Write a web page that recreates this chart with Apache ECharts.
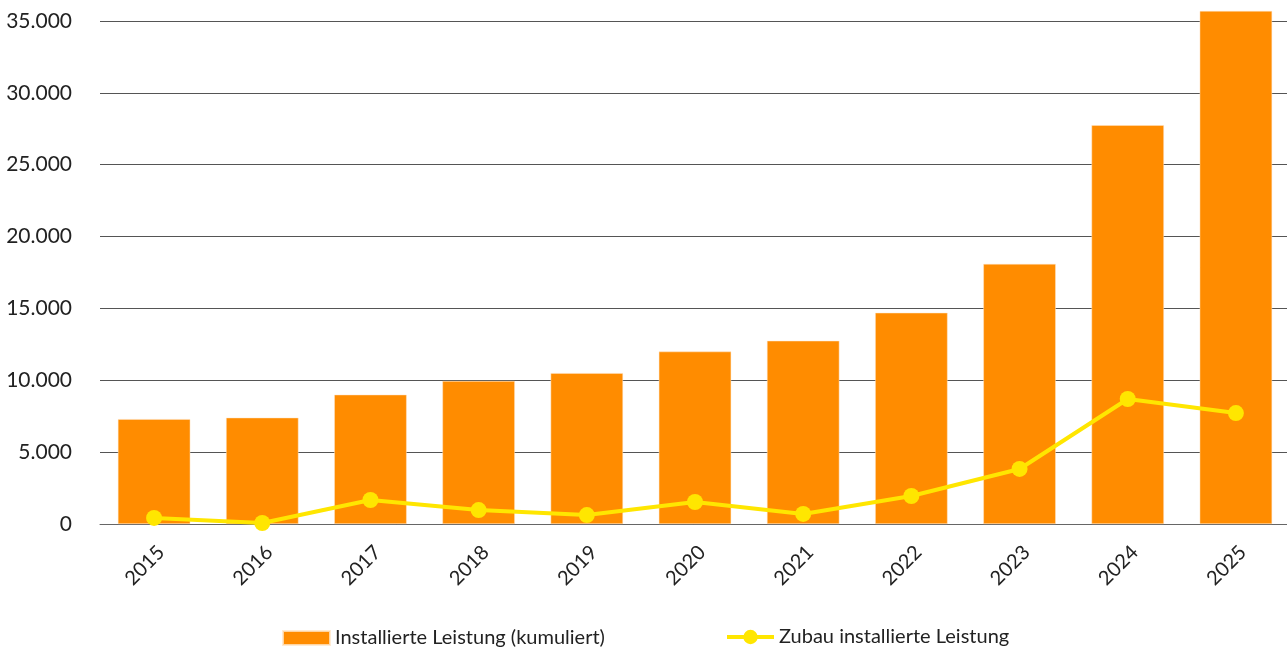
<!DOCTYPE html>
<html><head><meta charset="utf-8">
<script src="https://cdn.jsdelivr.net/npm/echarts@6/dist/echarts.min.js"></script>
<style>html,body{margin:0;padding:0;background:#fff}#c{width:1287px;height:650px}</style>
</head><body><div id="c"></div>
<script>
const categories = ['2015','2016','2017','2018','2019','2020','2021','2022','2023','2024','2025'];
const installiert = [7300, 7400, 9000, 9950, 10500, 12000, 12750, 14700, 18100, 27750, 35700];
const zubau = [420, 70, 1670, 970, 620, 1530, 700, 1950, 3830, 8700, 7720];
const yTicks = [0, 5000, 10000, 15000, 20000, 25000, 30000, 35000];
const seriesNames = ['Installierte Leistung (kumuliert)', 'Zubau installierte Leistung'];

const fmt = v => String(v).replace(/\B(?=(\d{3})+(?!\d))/g, '.');
const FONT = 'Lato';
const legendText = {fontFamily: FONT, fontSize: 20, color: '#222'};
const chart = echarts.init(document.getElementById('c'));
chart.setOption({
  animation: false,
  textStyle: {fontFamily: FONT},
  grid: {left: 100, width: 1190, top: 21, bottom: 126, containLabel: false, outerBoundsMode: 'none'},
  legend: [
    {
      left: 277, top: 623, itemWidth: 47, itemHeight: 14,
      textStyle: legendText,
      data: [{name: seriesNames[0], icon: 'rect'}]
    },
    {
      left: 720, top: 622, itemWidth: 47, itemHeight: 18,
      textStyle: legendText,
      data: [{name: seriesNames[1], lineStyle: {width: 4}}]
    }
  ],
  xAxis: {
    type: 'category', data: categories,
    axisTick: {show: false},
    axisLine: {lineStyle: {color: '#666', width: 1}},
    axisLabel: {rotate: 45, fontSize: 20, color: '#222', margin: 18, verticalAlign: 'top', fontFamily: FONT}
  },
  yAxis: {
    type: 'value', min: yTicks[0], max: yTicks[yTicks.length-1], interval: 5000,
    axisLine: {show: false}, axisTick: {show: false},
    splitLine: {lineStyle: {color: '#555', width: 1}},
    axisLabel: {formatter: v => fmt(v), fontSize: 21, color: '#222', margin: 28, fontFamily: FONT}
  },
  series: [
    {
      name: seriesNames[0], type: 'bar', data: installiert,
      barCategoryGap: '33%', clip: false,
      itemStyle: {color: '#FF8C00', borderColor: 'rgba(255,230,200,0.8)', borderWidth: 0.6}
    },
    {
      name: seriesNames[1], type: 'line', data: zubau,
      symbol: 'circle', symbolSize: 16, z: 5,
      lineStyle: {color: '#FFE600', width: 4},
      itemStyle: {color: '#FFE600'}
    }
  ]
});
</script></body></html>
